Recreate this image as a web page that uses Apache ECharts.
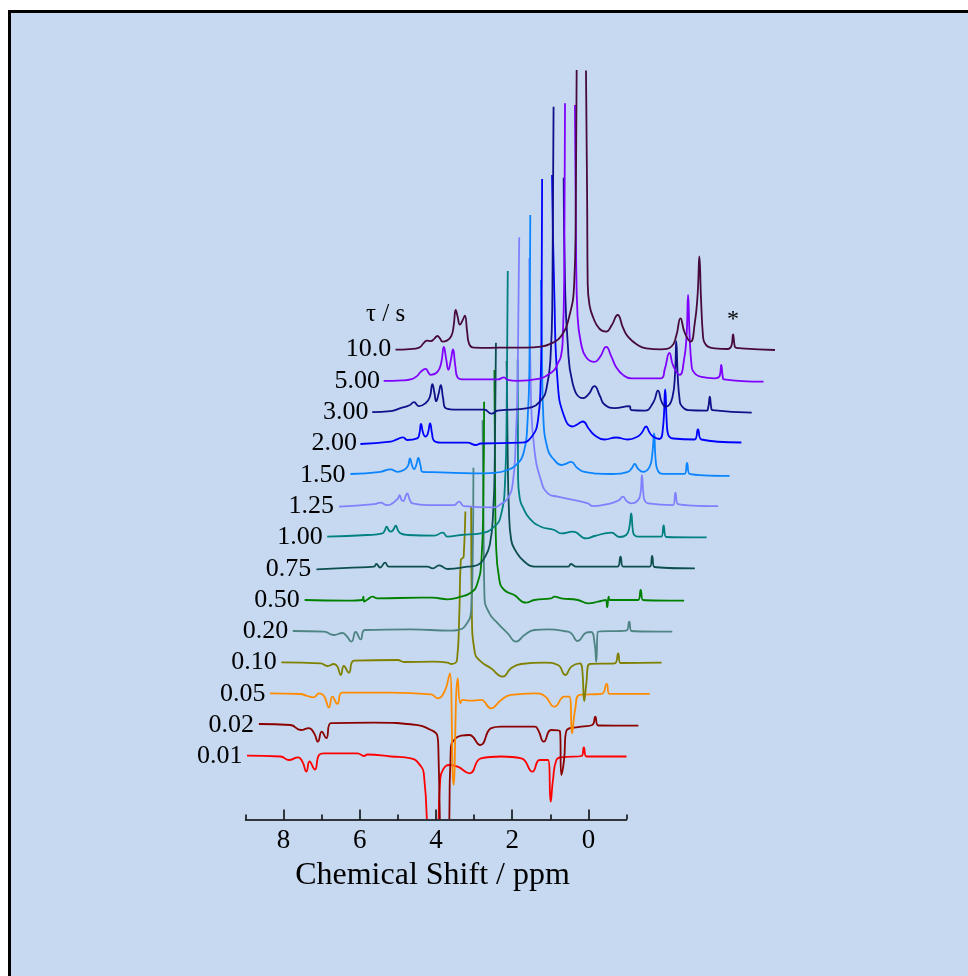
<!DOCTYPE html>
<html>
<head>
<meta charset="utf-8">
<script src="https://cdn.jsdelivr.net/npm/echarts@6/dist/echarts.min.js"></script>
<style>
  html, body { margin: 0; padding: 0; background: #ffffff; width: 968px; height: 976px; overflow: hidden; }
  #frame { position: absolute; left: 8px; top: 10px; width: 1000px; height: 1000px;
           border-left: 3px solid #000; border-top: 3px solid #000; background: #c6d9f0; }
  #chart { position: absolute; left: 0; top: 0; width: 968px; height: 976px; }
</style>
</head>
<body>
<div id="frame"></div>
<div id="chart"></div>
<script>
// Inversion-recovery 1H spectra, one trace per recovery delay tau (s).
// Each trace: [chemical shift / ppm, intensity / a.u.]; null marks where a trace runs off scale.
const tauLabels = ['0.01', '0.02', '0.05', '0.10', '0.20', '0.50', '0.75', '1.00', '1.25', '1.50', '2.00', '3.00', '5.00', '10.0'];
const traceColors = ['#ff0000', '#8b0000', '#ff8c00', '#808000', '#4f8484', '#008000', '#0d4f4f',
                     '#008080', '#8080ff', '#0a84ff', '#0000ff', '#10108a', '#8000ff', '#470a3a'];
const majorTicks = [0, 2, 4, 6, 8];
const minorTicks = [-1, 1, 3, 5, 7, 9];

const t0_01 = [[8.96,0.8],[8.08,0],[7.86,-3.5],[7.62,-0.8],[7.51,-5],[7.40,-15],[7.32,-5],[7.18,-13],[7.07,1.5],[6.94,3.2],[6.06,3.2],[5.89,0.5],[5.80,2],[5.18,0],[4.66,-1.8],[4.39,-10],[4.32,-17],[4.24,-62.5], null,
  [3.93,-62.5],[3.89,-23.5],[3.82,-13.5],[3.65,-8.5],[3.43,-10.2],[3.12,-16.8],[2.82,-1.8],[2.29,0],[1.76,-1.8],[1.47,-15.2],[1.28,-3.5],[1.06,-3.5],[0.99,-45.2],[0.93,-23.5],[0.84,-3.5],[0.71,-0.8],[0.18,0.5],[0.12,9],[0.05,0],[-1.0,0]];
const t0_02 = [[8.95,1.2],[8.12,0.2],[7.85,-4.8],[7.64,-3],[7.50,-8],[7.40,-16.5],[7.30,-6.5],[7.18,-13],[7.06,2],[5.92,2.5],[4.78,0],[4.43,-4.8],[4.30,-8],[4.26,-11.5],[4.24,-21.5],[4.20,-93.8], null,
  [3.95,-93.8],[3.91,-21.5],[3.78,-13],[3.64,-10.5],[3.43,-9.8],[3.14,-19.8],[2.85,-3],[2.59,-1.5],[1.71,-1.5],[1.62,-4.8],[1.47,-16.5],[1.28,-4.8],[1.05,-5.8],[1.01,-49.8],[0.94,-35],[0.88,-5.8],[0.49,-1.5],[0.2,0.2],[0.12,8.5],[0.04,-0.3],[-1.01,-0.5]];
const t0_05 = [[8.96,0.6],[8.16,-0.1],[7.98,-2.1],[7.81,-3.4],[7.67,0.6],[7.54,-2],[7.41,-13.4],[7.32,-2.8],[7.19,-10],[7.06,1.2],[5.79,1.2],[4.73,-0.4],[4.56,-4.4],[4.38,2.2],[4.25,19],[4.23,20.6],[4.14,-91],[4.03,15.6],[3.96,-9.4],[3.90,-6],
  [3.68,-6.8],[3.42,-6],[3.16,-14.4],[2.89,-6],[2.63,-1],[2.02,0.6],[1.75,-2],[1.49,-12.8],[1.23,-2.8],[1.10,-2.8],[1.03,-39.4],[0.95,-16],[0.83,-1],[0.26,0],[0.12,10],[0.05,0],[-1.01,0]];
const t0_10 = [[8.96,0.3],[7.93,-0.7],[7.75,-3.4],[7.58,-1.4],[7.49,-4],[7.40,-12.4],[7.32,-3.4],[7.19,-10],[7.05,2],[5.91,2.6],[5.74,0.6],[4.95,0.9],[4.60,0],[4.51,-1.4],[4.35,2.6],[4.29,49],[4.25,102.6],[4.20,104.6],[4.175,106],[4.13,151], null,
  [3.98,156],[3.96,49],[3.88,9.3],[3.72,1],[3.46,-5.7],[3.15,-14],[2.93,-5.7],[2.67,-1.4],[2.05,0],[1.70,-2.4],[1.51,-12.4],[1.35,-4],[1.13,-0.7],[1.07,-4.4],[1.01,-38.4],[0.96,-22.4],[0.87,-1.4],[0.21,-0.7],[0.12,9.3],[0.06,-0.4],[-1.02,-0.1]];
const t0_20 = [[8.96,0.3],[8.14,-0.4],[7.88,-3.7],[7.66,-1.7],[7.55,-4.7],[7.42,-10.4],[7.31,-0.7],[7.18,-8],[7.07,1.3],[5.86,2],[4.81,0.6],[4.63,1.3],[4.42,6.3],[4.28,21],[4.24,70],[4.22,163.6], null,
  [3.98,211],[3.95,90],[3.93,34.6],[3.80,18],[3.58,8],[3.32,-2],[3.10,-10.4],[2.88,-3.7],[2.62,1.3],[2.27,2],[1.74,-0.4],[1.65,-2],[1.48,-9.7],[1.26,-1.4],[1.13,-0.7],[1.04,-12],[0.995,-30.4],[0.95,-0.4],[0.21,0.6],[0.13,9.6],[0.07,0.3],[-1.0,-0.4]];
const t0_50 = [[8.95,0],[7.83,-0.7],[7.44,0],[7.41,3.3],[7.39,-1.7],[7.30,0.5],[7.17,3.3],[7.04,1.7],[5.90,2.3],[5.59,2.3],[5.20,0.7],[4.85,3.3],[4.59,7.3],[4.43,15],[4.31,40],[4.26,100],[4.24,198.3], null,
  [3.97,230],[3.95,110],[3.93,60],[3.84,20],[3.71,10],[3.45,5],[3.14,-2.7],[2.92,0],[2.48,1.7],[2.39,3.3],[2.22,1.7],[1.78,0],[1.51,-3.3],[1.25,-1.7],[1.05,0],[1.01,-7.3],[0.97,3.3],[0.94,0],[0.20,0],[0.13,10],[0.07,0],[-1.01,-0.7]];
const t0_75 = [[8.94,-0.6],[8.0,1],[7.43,2],[7.37,4.7],[7.27,1.2],[7.14,6],[7.04,2],[6.03,2],[5.89,0.4],[5.72,3.4],[5.50,-0.3],[4.97,2],[4.71,3.7],[4.54,10.4],[4.39,24],[4.30,59],[4.26,110],[4.23,226], null,
  [3.95,207.7],[3.92,110],[3.89,60],[3.83,28.7],[3.70,17],[3.48,7],[3.22,2],[2.34,2],[2.26,4.7],[2.12,2],[1.47,2],[1.04,2],[0.96,12],[0.89,2],[0.19,2],[0.13,12.7],[0.07,1.7],[-0.99,0.4]];
const t1_00 = [[8.96,0.7],[7.91,2.4],[7.51,4],[7.45,7],[7.40,10.7],[7.34,7],[7.29,5.7],[7.22,8],[7.16,11.7],[7.10,7],[7.03,4],[6.85,2.4],[6.15,1.7],[5.93,4.7],[5.80,0.7],[5.45,2.4],[4.93,4],[4.575,10.7],[4.40,22],[4.29,57],[4.25,120],[4.22,266.4], null,
  [3.96,178],[3.95,60],[3.90,38],[3.83,30.7],[3.65,19],[3.35,10.7],[3.0,7.4],[2.82,4],[2.51,5.7],[2.16,-1],[1.94,1.4],[1.50,4.7],[1.29,0.4],[1.11,2.4],[1.03,10],[0.98,24],[0.94,8],[0.90,2.4],[0.80,0.7],[0.19,0.7],[0.13,12],[0.06,0.4],[-1.0,0]];
const t1_25 = [[8.95,-0.6],[8.03,2],[7.86,3.4],[7.69,1],[7.42,6.8],[7.36,11],[7.31,6],[7.26,5],[7.21,9],[7.16,12.8],[7.09,6],[7.02,2.8],[6.63,1],[5.93,1],[5.80,4.4],[5.67,0],[4.88,-1.2],[4.70,2],[4.52,7.8],[4.39,22.8],[4.31,66],[4.26,130],[4.22,268.8], null,
  [3.955,247.8],[3.91,106],[3.82,56],[3.65,26],[3.47,12.8],[3.21,9.4],[2.77,6],[2.42,2.8],[2.29,0],[1.81,2.8],[1.60,6],[1.50,9.4],[1.40,5],[1.28,2.8],[1.10,6],[1.03,15],[1.0,31],[0.96,12],[0.93,6],[0.84,2.8],[0.18,1],[0.12,13.4],[0.05,2],[-1.0,0]];
const t1_50 = [[8.95,0.8],[8.16,3],[7.90,5.5],[7.72,3],[7.55,4.8],[7.44,9],[7.39,16.5],[7.33,9],[7.28,5.5],[7.22,10],[7.17,17],[7.11,9],[7.06,3],[6.58,2.5],[5.70,1.5],[5.18,2],[4.82,4.8],[4.60,10],[4.42,20],[4.30,55],[4.25,120],[4.23,259.8], null,
  [3.95,194.8],[3.92,110],[3.89,60],[3.77,25],[3.60,15],[3.42,9.8],[3.30,11],[3.16,13],[3.0,7],[2.81,3],[2.11,0.8],[1.67,3],[1.56,7],[1.49,10.8],[1.40,6],[1.27,3],[1.10,8],[1.03,20],[0.98,41.5],[0.94,15],[0.88,4],[0.75,1],[0.18,1],[0.115,12],[0.05,1],[-1.0,-1]];
const t2_00 = [[8.99,-0.5],[8.20,1.8],[8.03,4.2],[7.87,6.2],[7.76,3.5],[7.50,5.2],[7.44,10],[7.40,19.5],[7.34,10],[7.28,6.8],[7.22,10],[7.16,20.2],[7.11,10],[7.06,2.8],[6.88,0.8],[6.18,0.8],[5.96,-1.5],[5.83,0],[4.78,0.8],[4.51,6],[4.33,23],[4.26,60],[4.235,120],[4.22,264.5], null,
  [3.96,268.5],[3.90,150],[3.81,60],[3.64,27],[3.42,17],[3.30,19],[3.15,22],[3.0,15],[2.85,8.5],[2.58,4],[2.28,6],[1.97,4],[1.71,7],[1.60,11],[1.49,17],[1.40,11],[1.31,7],[1.14,4.5],[1.05,15],[0.99,54],[0.95,22],[0.92,10],[0.78,5],[0.22,4],[0.13,14],[0.04,4],[-1.01,1]];
const t3_00 = [[8.98,0],[8.50,1],[8.24,4],[8.0,7],[7.885,10],[7.75,6],[7.58,9],[7.47,15],[7.40,28],[7.35,20],[7.30,11],[7.24,18],[7.18,27],[7.12,14],[7.05,4],[6.74,2.5],[6.04,2.5],[5.85,-1.5],[5.69,1.5],[4.90,4],[4.55,12],[4.40,25],[4.30,55],[4.25,120],[4.22,305.5], null,
  [3.955,234.5],[3.92,130],[3.85,70],[3.72,29],[3.45,14],[3.30,18],[3.15,26],[3.0,16],[2.89,8],[2.62,4],[2.23,6],[2.18,2],[1.83,1.5],[1.60,10],[1.48,21.5],[1.38,10],[1.28,5.5],[1.10,15],[1.03,40],[1.0,71],[0.96,35],[0.91,12],[0.87,7],[0.69,2],[0.21,1.5],[0.16,5],[0.12,15.5],[0.08,4],[0.05,2],[-0.98,-0.5]];
const t5_00 = [[8.98,0],[8.50,0.5],[8.27,1.5],[8.10,5],[8.01,9],[7.88,12],[7.80,8],[7.75,6],[7.57,9],[7.47,18],[7.40,34],[7.34,22],[7.28,11],[7.22,20],[7.16,31.5],[7.10,15],[7.04,3.5],[6.87,1.5],[5.99,1.5],[5.82,3.5],[5.73,1],[5.47,0],[4.85,2.6],[4.68,6],[4.50,11],[4.41,17.6],[4.33,24],[4.28,41],[4.24,110],[4.22,277.6], null,
  [3.96,276],[3.93,130],[3.89,64],[3.80,37.6],[3.67,24],[3.45,19],[3.30,24],[3.14,34],[3.0,24],[2.88,14],[2.70,6],[2.48,2.6],[2.10,2.6],[1.70,2.6],[1.60,12],[1.48,28],[1.38,15],[1.21,6],[1.10,20],[1.03,45],[0.99,86],[0.95,45],[0.90,16],[0.86,10],[0.64,4],[0.29,2.6],[0.16,5],[0.12,16],[0.08,4],[0.05,1.5],[-0.99,-0.8]];
const t10_0 = [[8.97,0],[8.60,0.5],[8.35,2],[8.22,7],[8.14,9],[8.04,8.5],[7.95,11],[7.87,13.6],[7.80,11],[7.74,8],[7.62,9],[7.50,14],[7.44,25],[7.39,39.6],[7.34,33],[7.28,25],[7.20,30],[7.15,34],[7.09,18],[7.04,6],[6.91,2],[6.50,1.8],[6.03,2],[5.55,2],[5.15,3],[4.89,6],[4.63,13],[4.41,33],[4.28,66],[4.24,130],[4.215,279.6], null,
  [3.97,279],[3.94,150],[3.925,66],[3.88,45],[3.79,33],[3.62,21],[3.44,18],[3.30,24],[3.14,34.6],[3.0,22],[2.87,13],[2.61,4.6],[2.39,1.3],[2.0,0.3],[1.73,3],[1.60,14],[1.49,31.3],[1.38,17],[1.225,8],[1.12,25],[1.04,55],[0.995,93.3],[0.95,50],[0.90,14],[0.86,7],[0.77,3],[0.59,1.3],[0.24,0.6],[0.15,4],[0.11,15.3],[0.07,4],[0.04,2],[-0.11,1.3],[-0.99,-0.4]];

const traces = [t0_01, t0_02, t0_05, t0_10, t0_20, t0_50, t0_75, t1_00, t1_25, t1_50, t2_00, t3_00, t5_00, t10_0];

// Waterfall layout: each trace sits in its own panel, stepped right and up.
const LEFT0 = 245.5, PLOT_W = 381, BASE_Y = 756.5, STEP_X = 11.45, STEP_Y = 31.3;
const Y_MIN = -120, Y_MAX = 320;
const AXIS_Y = 819.5;
const FONT = '"Liberation Serif", "Times New Roman", Times, serif';

const grids = [], xAxes = [], yAxes = [], series = [];
traces.forEach((pts, i) => {
  const zeroY = BASE_Y - STEP_Y * i;
  grids.push({ left: LEFT0 + STEP_X * i, width: PLOT_W, top: zeroY - Y_MAX, height: Y_MAX - Y_MIN });
  xAxes.push({ type: 'value', gridIndex: i, min: -1, max: 9, inverse: true, show: false });
  yAxes.push({
    type: 'value', gridIndex: i, min: Y_MIN, max: Y_MAX,
    axisLine: { show: false }, axisTick: { show: false }, splitLine: { show: false },
    axisLabel: { customValues: [0], formatter: () => tauLabels[i], margin: 3,
                 fontFamily: FONT, fontSize: 26, color: '#000' }
  });
  const s = {
    type: 'line', xAxisIndex: i, yAxisIndex: i,
    data: pts.map(p => (p ? p : '-')),
    showSymbol: false, symbol: 'none', clip: false, connectNulls: false, silent: true,
    smooth: 0.5,
    lineStyle: { color: traceColors[i], width: 1.8 }, itemStyle: { color: traceColors[i] },
    z: 2 + i
  };
  if (i === traces.length - 1) {
    // reference-compound marker on the longest-delay trace
    s.markPoint = {
      silent: true, symbol: 'circle', symbolSize: 1, itemStyle: { color: 'rgba(0,0,0,0)' },
      data: [{ coord: [0.11, 15.3] }],
      label: { show: true, formatter: '*', position: 'top', distance: 2,
               fontFamily: FONT, fontSize: 24, color: '#000' }
    };
  }
  series.push(s);
});

// Shared chemical-shift axis along the bottom
const axisGrid = traces.length;
grids.push({ left: LEFT0, width: PLOT_W, top: AXIS_Y - 120, height: 120 });
xAxes.push({
  type: 'value', gridIndex: axisGrid, min: -1, max: 9, inverse: true, position: 'bottom',
  axisLine: { show: true, lineStyle: { color: '#000', width: 1.5 } },
  axisTick: { show: true, inside: true, length: 10, customValues: majorTicks, lineStyle: { color: '#000', width: 1.5 } },
  axisLabel: { show: true, customValues: majorTicks, margin: 8, fontFamily: FONT, fontSize: 27, color: '#000' },
  splitLine: { show: false },
  name: 'Chemical Shift / ppm', nameLocation: 'middle', nameGap: 40,
  nameTextStyle: { fontFamily: FONT, fontSize: 32, color: '#000', padding: [0, 7, 0, 0] }
});
xAxes.push({
  type: 'value', gridIndex: axisGrid, min: -1, max: 9, inverse: true, position: 'bottom',
  axisLine: { show: false },
  axisTick: { show: true, inside: true, length: 5, customValues: minorTicks, lineStyle: { color: '#000', width: 1.5 } },
  axisLabel: { show: false }, splitLine: { show: false }
});
yAxes.push({ type: 'value', gridIndex: axisGrid, show: false });

const chart = echarts.init(document.getElementById('chart'), null, { renderer: 'canvas' });
chart.setOption({
  backgroundColor: 'transparent',
  animation: false,
  title: { text: 'τ / s', left: 361, top: 297,
           textStyle: { fontFamily: FONT, fontSize: 25, fontWeight: 'normal', color: '#000' } },
  grid: grids, xAxis: xAxes, yAxis: yAxes, series: series
});
</script>
</body>
</html>
